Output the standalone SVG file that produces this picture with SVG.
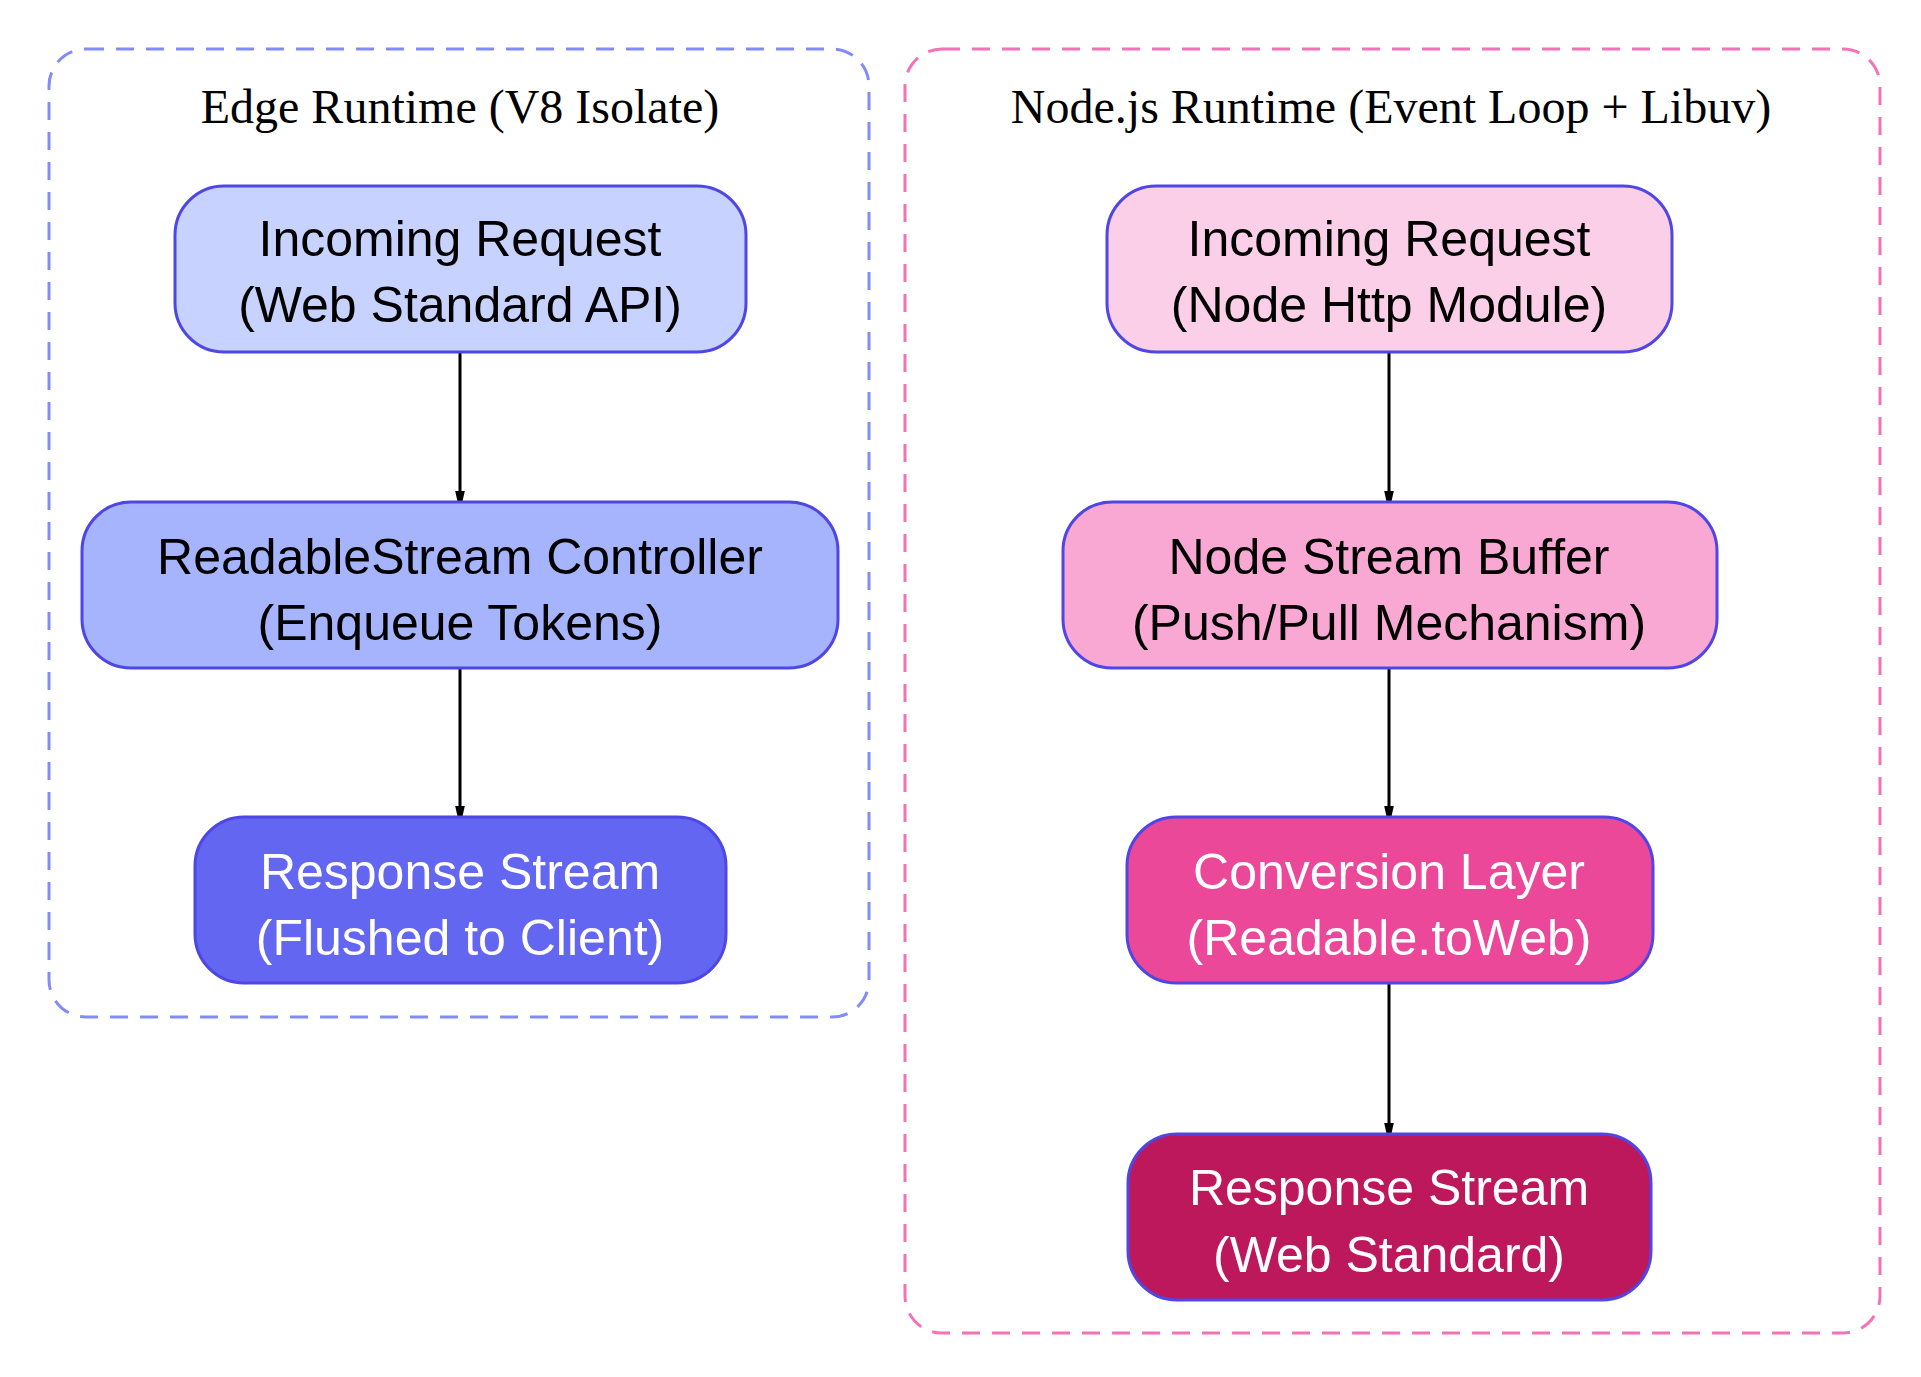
<svg xmlns="http://www.w3.org/2000/svg" width="1921" height="1377" viewBox="0 0 1921 1377">
<style>
.cl{fill:none;stroke-width:3;stroke-dasharray:18,12}
.nd{stroke:#4f46e5;stroke-width:3}
.t{font-family:"Liberation Sans",Arial,sans-serif;font-size:50px;text-anchor:middle}
.ct{font-family:"Liberation Serif","Times New Roman",serif;font-size:48px;text-anchor:middle}
.e{stroke:#000;stroke-width:3;fill:none}
</style>
<defs><marker id="ah" markerWidth="22" markerHeight="50" refX="21" refY="11" orient="auto" markerUnits="userSpaceOnUse" viewBox="0 0 50 22"><path d="M0,0 L50,11 L0,22 Z" fill="#000"/></marker></defs>
<rect width="1921" height="1377" fill="#fff"/>
<g id="cluster_edge"><rect class="cl" x="49" y="49" width="820" height="968" rx="37" stroke="#818cf8"/><text class="ct" x="460" y="123">Edge Runtime (V8 Isolate)</text></g>
<g id="cluster_node"><rect class="cl" x="905" y="49" width="975" height="1284" rx="37" stroke="#f472b6"/><text class="ct" x="1391" y="123">Node.js Runtime (Event Loop + Libuv)</text></g>
<g id="connectors">
<path class="e" d="M460,352 V500" marker-end="url(#ah)"/>
<path class="e" d="M460,668 V815" marker-end="url(#ah)"/>
<path class="e" d="M1389,352 V500" marker-end="url(#ah)"/>
<path class="e" d="M1389,668 V815" marker-end="url(#ah)"/>
<path class="e" d="M1389,983 V1132" marker-end="url(#ah)"/>
</g>
<g id="e1"><rect class="nd" x="175" y="186" width="571" height="166" rx="49" fill="#c7d2fe"/><text class="t" x="460" y="256">Incoming Request</text><text class="t" x="460" y="322">(Web Standard API)</text></g>
<g id="e2"><rect class="nd" x="82" y="502" width="756" height="166" rx="49" fill="#a5b4fc"/><text class="t" x="460" y="574">ReadableStream Controller</text><text class="t" x="460" y="640">(Enqueue Tokens)</text></g>
<g id="e3"><rect class="nd" x="195" y="817" width="531" height="166" rx="49" fill="#6366f1"/><text class="t" x="460" y="889" fill="#fff">Response Stream</text><text class="t" x="460" y="955" fill="#fff">(Flushed to Client)</text></g>
<g id="n1"><rect class="nd" x="1107" y="186" width="565" height="166" rx="49" fill="#fbcfe8"/><text class="t" x="1389" y="256">Incoming Request</text><text class="t" x="1389" y="322">(Node Http Module)</text></g>
<g id="n2"><rect class="nd" x="1063" y="502" width="654" height="166" rx="49" fill="#f9a8d4"/><text class="t" x="1389" y="574">Node Stream Buffer</text><text class="t" x="1389" y="640">(Push/Pull Mechanism)</text></g>
<g id="n3"><rect class="nd" x="1127" y="817" width="526" height="166" rx="49" fill="#ec4899"/><text class="t" x="1389" y="889" fill="#fff">Conversion Layer</text><text class="t" x="1389" y="955" fill="#fff">(Readable.toWeb)</text></g>
<g id="n4"><rect class="nd" x="1128" y="1134" width="523" height="166" rx="49" fill="#be185d"/><text class="t" x="1389" y="1205" fill="#fff">Response Stream</text><text class="t" x="1389" y="1272" fill="#fff">(Web Standard)</text></g>
</svg>
